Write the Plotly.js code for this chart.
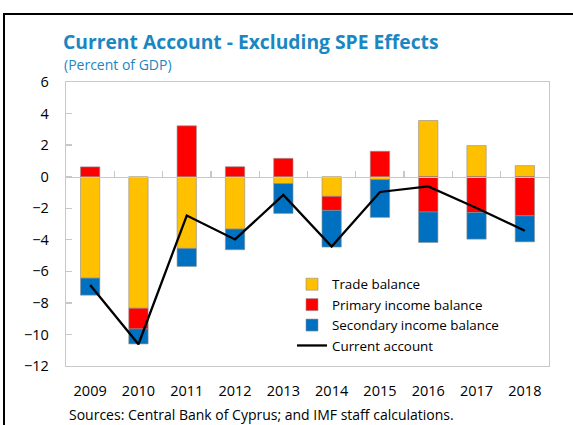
<!DOCTYPE html>
<html>
<head>
<meta charset="utf-8">
<script src="https://cdn.plot.ly/plotly-3.0.1.min.js"></script>
<style>
  html, body { margin: 0; padding: 0; background: #ffffff; overflow: hidden; }
  #chart { width: 573px; height: 425px; }
  #frame { position: absolute; left: 3px; top: 13px; width: 700px; height: 600px;
           border: 2px solid #000; pointer-events: none; }
</style>
</head>
<body>
<div id="chart"></div>
<div id="frame"></div>
<script>
const years = ['2009','2010','2011','2012','2013','2014','2015','2016','2017','2018'];
const tradeBalance     = [-6.43, -8.34, -4.55, -3.32, -0.44, -1.25, -0.19,  3.56,  1.97,  0.70];
const primaryIncome    = [ 0.62, -1.31,  3.22,  0.63,  1.16, -0.89,  1.61, -2.24, -2.27, -2.48];
const secondaryIncome  = [-1.08, -0.95, -1.14, -1.31, -1.89, -2.32, -2.39, -1.93, -1.69, -1.65];
const currentAccount   = [-6.86, -10.62, -2.46, -3.98, -1.16, -4.43, -0.97, -0.62, -1.99, -3.43];
const yTicks = [-12, -10, -8, -6, -4, -2, 0, 2, 4, 6];

const FONT = '"Open Sans", "Noto Sans", sans-serif';
const GRAY = '#c8c8c8';
const barLine = { color: '#8f8f8f', width: 0.6 };
const yMin = -12, yMax = 6;

const traces = [
  { type: 'bar', name: 'Trade balance', x: years, y: tradeBalance,
    marker: { color: '#FFC000', line: barLine }, width: 0.4 },
  { type: 'bar', name: 'Primary income balance', x: years, y: primaryIncome,
    marker: { color: '#FF0000', line: barLine }, width: 0.4 },
  { type: 'bar', name: 'Secondary income balance', x: years, y: secondaryIncome,
    marker: { color: '#0070C0', line: barLine }, width: 0.4 },
  { type: 'scatter', mode: 'lines', name: 'Current account', x: years, y: currentAccount,
    line: { color: '#000000', width: 2.3 } },
  { type: 'scatter', x: [], y: [], xaxis: 'x2', showlegend: false, hoverinfo: 'skip' }
];

// boundaries between categories for the zero-line ticks
const boundaries = years.slice(1).map((_, i) => i + 0.5);

const layout = {
  width: 573, height: 425,
  paper_bgcolor: '#ffffff', plot_bgcolor: '#ffffff',
  margin: { l: 66, r: 24, t: 82, b: 59 },
  font: { family: FONT, size: 14, color: '#000000' },
  barmode: 'relative',
  showlegend: true,
  title: {
    text: '<b>Current Account - Excluding SPE Effects</b>',
    font: { family: FONT, size: 19.3, color: '#1B87C2' },
    xref: 'container', x: 63 / 573, xanchor: 'left',
    yref: 'container', y: 1 - 42 / 425, yanchor: 'middle'
  },
  xaxis: {
    type: 'category', range: [-0.5, 9.5],
    showline: true, linecolor: GRAY, linewidth: 1.3, mirror: true,
    ticks: '', showgrid: false, zeroline: false,
    tickfont: { family: FONT, size: 14.5, color: '#000' },
    ticklabelstandoff: 11
  },
  xaxis2: {
    type: 'linear', range: [-0.5, 9.5], overlaying: 'x', anchor: 'free',
    position: (0 - yMin) / (yMax - yMin),
    showline: true, linecolor: GRAY, linewidth: 1.5,
    ticks: 'inside', ticklen: 6, tickwidth: 1.3, tickcolor: GRAY,
    tickmode: 'array', tickvals: boundaries,
    showticklabels: false, showgrid: false, zeroline: false
  },
  yaxis: {
    range: [yMin, yMax], tickmode: 'array', tickvals: yTicks,
    showline: true, linecolor: GRAY, linewidth: 1.3, mirror: true,
    ticks: 'inside', ticklen: 6, tickwidth: 1.3, tickcolor: GRAY,
    showgrid: false, zeroline: false,
    tickfont: { family: FONT, size: 14.5, color: '#000' },
    ticklabelstandoff: 13
  },
  legend: {
    x: (292 - 66) / 483, xanchor: 'left',
    y: (366 - 269) / 284, yanchor: 'top',
    traceorder: 'normal',
    bgcolor: 'rgba(0,0,0,0)',
    font: { family: FONT, size: 13.4, color: '#000' },
    tracegroupgap: 0
  },
  annotations: [
    { text: '(Percent of GDP)', xref: 'paper', yref: 'paper',
      x: (62 - 66) / 483, xanchor: 'left', y: (366 - 64) / 284, yanchor: 'middle',
      showarrow: false, font: { family: FONT, size: 14, color: '#1B87C2' } },
    { text: 'Sources: Central Bank of Cyprus; and IMF staff calculations.', xref: 'paper', yref: 'paper',
      x: (67 - 66) / 483, xanchor: 'left', y: (366 - 414) / 284, yanchor: 'middle',
      showarrow: false, font: { family: FONT, size: 14, color: '#000' } }
  ]
};

Plotly.newPlot('chart', traces, layout, { staticPlot: true, displayModeBar: false });
</script>
</body>
</html>
